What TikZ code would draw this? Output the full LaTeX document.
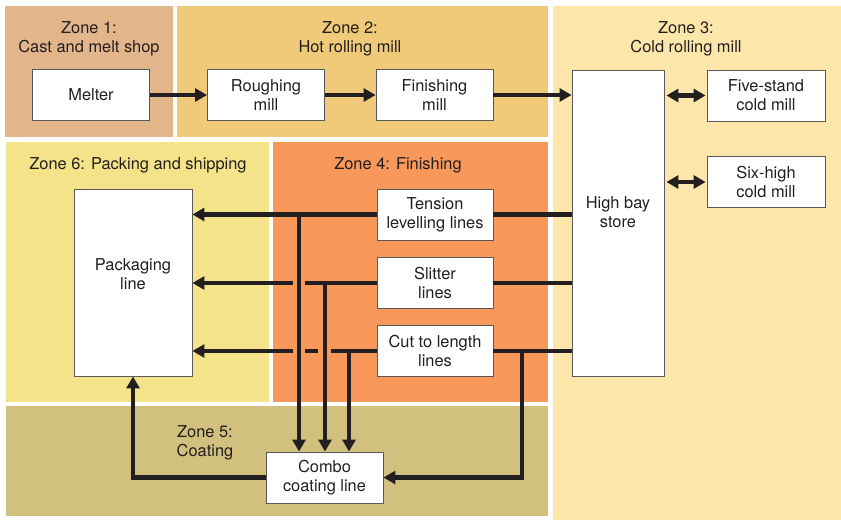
\documentclass[tikz,border=0pt]{standalone}
\usepackage{fontspec}
\setmainfont{TeX Gyre Heros}
\usetikzlibrary{arrows.meta}
\definecolor{zoneA}{HTML}{E3B58B}
\definecolor{zoneB}{HTML}{F0C979}
\definecolor{zoneC}{HTML}{FDE6AA}
\definecolor{zoneD}{HTML}{F8995B}
\definecolor{zoneE}{HTML}{D2C07E}
\definecolor{zoneF}{HTML}{F4E388}
\definecolor{ink}{HTML}{231F20}
\definecolor{boxline}{HTML}{58595B}
\begin{document}
\begin{tikzpicture}[x=1pt,y=-1pt,
  txt/.style={font=\fontsize{16.4}{19}\selectfont, text=ink, align=center, inner sep=0pt},
  box/.style={txt, draw=boxline, line width=0.9pt, fill=white, minimum width=117pt, minimum height=51pt},
  flow/.style={draw=ink, line width=4.5pt},
  arr/.style={flow, -{Triangle[length=12pt,width=13pt]}},
  darr/.style={flow, {Triangle[length=12pt,width=13pt]}-{Triangle[length=12pt,width=13pt]}},
]
\useasboundingbox (0,0) rectangle (841,520);
\fill[white] (0,0) rectangle (841,520);
% zones
\fill[zoneA] (5,6) rectangle (173,137);
\fill[zoneB] (177,6) rectangle (548,137);
\fill[zoneC] (553,6) rectangle (841,520);
\fill[zoneF] (6,142) rectangle (269,402);
\fill[zoneD] (273,142) rectangle (548,402);
\fill[zoneE] (6,406) rectangle (548,516);
% zone labels
\node[txt] (z1) at (89,38.5) {Zone 1:\\Cast and melt shop};
\node[txt] (z2) at (350,38.5) {Zone 2:\\Hot rolling mill};
\node[txt] (z3) at (686,38.5) {Zone 3:\\Cold rolling mill};
\node[txt] (z6) at (138,165) {Zone 6: Packing and shipping};
\node[txt] (z4) at (398,165) {Zone 4: Finishing};
\node[txt] (z5) at (205,443) {Zone 5:\\Coating};
% boxes
\node[box] (melter) at (91,95) {Melter};
\node[box] (rough) at (266,95) {Roughing\\mill};
\node[box] (finish) at (434.5,95) {Finishing\\mill};
\node[box, minimum width=92pt, minimum height=306pt] (hbs) at (618,223) {};
\node[txt] (hbstxt) at (618,212) {High bay\\store};
\node[box, minimum width=118pt] (five) at (766,95.5) {Five-stand\\cold mill};
\node[box, minimum width=118pt] (six) at (766,182) {Six-high\\cold mill};
\node[box, minimum width=118pt, minimum height=187pt] (pack) at (133,282.5) {};
\node[txt] (packtxt) at (133,274) {Packaging\\line};
\node[box, minimum width=116pt] (tens) at (435,214.5) {Tension\\levelling lines};
\node[box, minimum width=116pt] (slit) at (435,283) {Slitter\\lines};
\node[box, minimum width=116pt] (cut) at (435,351) {Cut to length\\lines};
\node[box] (combo) at (324.5,477.5) {Combo\\coating line};
% junctions and gaps
\coordinate (j1) at (299,214.5);
\coordinate (j2) at (325,283);
\coordinate (j3) at (349,351);
\coordinate (j4) at (522,351);
\coordinate (g2a) at (293,283);
\coordinate (g2b) at (305,283);
\coordinate (g3a) at (293,351);
\coordinate (g3b) at (305,351);
\coordinate (g3c) at (318,351);
\coordinate (g3d) at (331,351);
% hot line
\draw[arr] (melter) -- (rough);
\draw[arr] (rough) -- (finish);
\draw[arr] (finish.east) -- (finish.east -| hbs.west);
\draw[darr, shorten <=2pt, shorten >=1pt] (hbs.east |- five) -- (five.west);
\draw[darr, shorten <=2pt, shorten >=1pt] (hbs.east |- six) -- (six.west);
% finishing rows
\draw[flow] (hbs.west |- tens) -- (tens.east);
\draw[arr] (tens.west) -- (pack.east |- tens);
\draw[flow] (hbs.west |- slit) -- (slit.east);
\draw[flow] (slit.west) -- (g2b);
\draw[arr] (g2a) -- (pack.east |- slit);
\draw[flow] (hbs.west |- cut) -- (cut.east);
\draw[flow] (cut.west) -- (g3d);
\draw[flow] (g3c) -- (g3b);
\draw[arr] (g3a) -- (pack.east |- cut);
% to coating
\draw[arr] (j1) -- (j1 |- combo.north);
\draw[arr] (j2) -- (j2 |- combo.north);
\draw[arr] (j3) -- (j3 |- combo.north);
\draw[arr] (j4) |- (combo.east);
\draw[arr] (combo.west) -| (pack.south);
\end{tikzpicture}
\end{document}
